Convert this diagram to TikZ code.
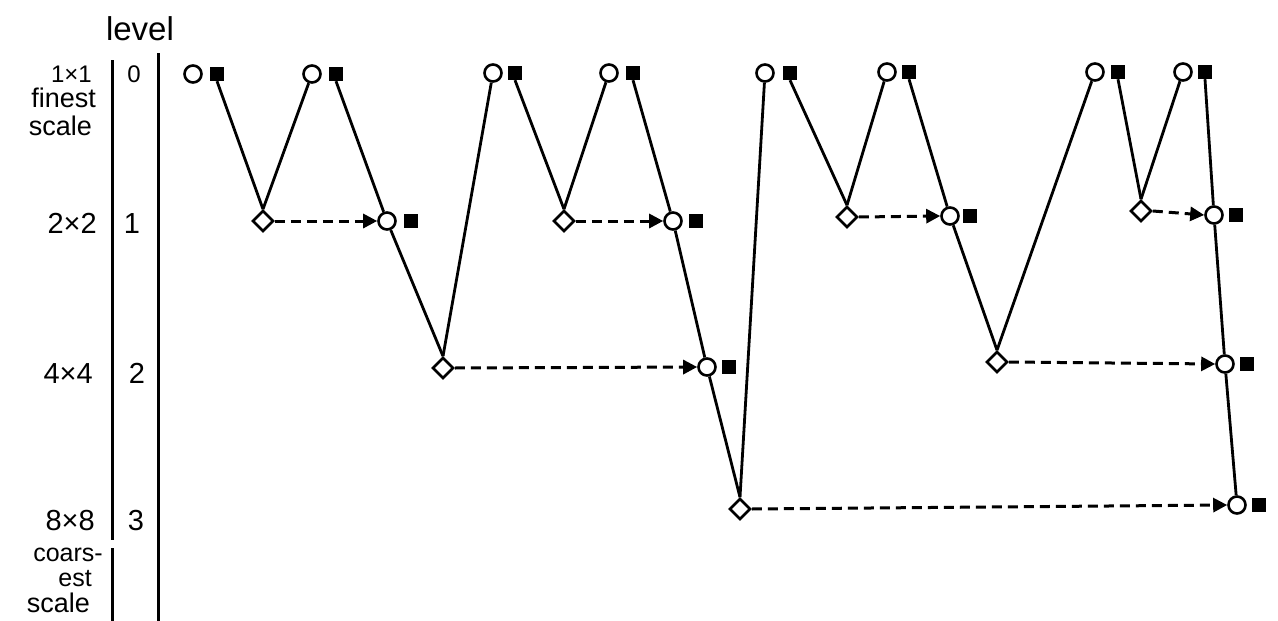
\documentclass[tikz,border=0pt]{standalone}
\usepackage{fontspec}
\setmainfont{Liberation Sans}
\usetikzlibrary{shapes.geometric,arrows.meta}
\tikzset{
  circ/.style={circle,draw,line width=2.6pt,minimum size=17pt,inner sep=0pt},
  sq/.style={rectangle,fill=black,minimum size=14pt,inner sep=0pt},
  dia/.style={diamond,draw,line width=2.6pt,minimum size=21pt,inner sep=0pt},
  edge/.style={line width=2.8pt},
  dasharrow/.style={line width=3pt,dash pattern=on 10pt off 6pt,-{Triangle[length=14pt,width=14pt]}},
  axis/.style={line width=3pt},
  word/.style={font=\fontsize{27}{29}\selectfont,inner sep=0pt,anchor=base east},
  lvl/.style={font=\fontsize{29}{30}\selectfont,inner sep=0pt,anchor=base},
}
\begin{document}
\begin{tikzpicture}[x=1pt,y=-1pt]
\useasboundingbox (0,0) rectangle (1278,621);
% axis
\draw[axis] (112,60) -- (112,540);
\draw[axis] (112,548) -- (112,621);
\draw[axis] (158,53) -- (158,621);
\node[font=\fontsize{33}{35}\selectfont,inner sep=0pt,anchor=base] (tlevel) at (140,40) {level};
\node[word,font=\fontsize{24}{26}\selectfont] (t11) at (92,82) {1×1};
\node[word] (tfin) at (96,107) {finest};
\node[word] (tsc1) at (92,135) {scale};
\node[word,font=\fontsize{29}{30}\selectfont] (t22) at (97,233) {2×2};
\node[word,font=\fontsize{29}{30}\selectfont] (t44) at (93,383) {4×4};
\node[word,font=\fontsize{29}{30}\selectfont] (t88) at (95,530) {8×8};
\node[word,font=\fontsize{25}{27}\selectfont] (tcoa) at (103,561) {coars-};
\node[word,font=\fontsize{25}{27}\selectfont] (test) at (92,586) {est};
\node[word] (tsc2) at (90,612) {scale};
\node[lvl,font=\fontsize{24}{26}\selectfont] (l0) at (134,82) {0};
\node[lvl] (l1) at (132,233) {1};
\node[lvl] (l2) at (137,383) {2};
\node[lvl] (l3) at (136,530) {3};
% level 0
\node[circ] (c01) at (193,74) {}; \node[sq] (s01) at (217,74) {};
\node[circ] (c02) at (312,74) {}; \node[sq] (s02) at (336,74) {};
\node[circ] (c03) at (493,73) {}; \node[sq] (s03) at (515,73) {};
\node[circ] (c04) at (609,73) {}; \node[sq] (s04) at (633,73) {};
\node[circ] (c05) at (765,73) {}; \node[sq] (s05) at (790,73) {};
\node[circ] (c06) at (887,72) {}; \node[sq] (s06) at (909,72) {};
\node[circ] (c07) at (1095,72) {}; \node[sq] (s07) at (1118,72) {};
\node[circ] (c08) at (1183,72) {}; \node[sq] (s08) at (1205,72) {};
% level 1
\node[dia] (d1a) at (263,221) {};
\node[dia] (d1b) at (564,221) {};
\node[dia] (d1c) at (847,217) {};
\node[dia] (d1d) at (1141,211) {};
\node[circ] (c1a) at (387,221) {}; \node[sq] (s1a) at (411,221) {};
\node[circ] (c1b) at (673,221) {}; \node[sq] (s1b) at (696,221) {};
\node[circ] (c1c) at (950,216) {}; \node[sq] (s1c) at (970,216) {};
\node[circ] (c1d) at (1214,215) {}; \node[sq] (s1d) at (1236,215) {};
% level 2
\node[dia] (d2a) at (443,368) {};
\node[dia] (d2b) at (997,362) {};
\node[circ] (c2a) at (707,367) {}; \node[sq] (s2a) at (729,367) {};
\node[circ] (c2b) at (1225,364) {}; \node[sq] (s2b) at (1247,364) {};
% level 3
\node[dia] (d3) at (740,509) {};
\node[circ] (c3) at (1237,505) {}; \node[sq] (s3) at (1259,505) {};
% solid edges
\draw[edge] (s01.south) -- (d1a.north);
\draw[edge] (c02) -- (d1a.north);
\draw[edge] (s02.south) -- (c1a);
\draw[edge] (c1a) -- (d2a.north);
\draw[edge] (d2a.north) -- (c03);
\draw[edge] (s03.south) -- (d1b.north);
\draw[edge] (c04) -- (d1b.north);
\draw[edge] (s04.south) -- (c1b);
\draw[edge] (c1b) -- (c2a);
\draw[edge] (c2a) -- (d3.north);
\draw[edge] (d3.north) -- (c05);
\draw[edge] (s05.south) -- (d1c.north);
\draw[edge] (c06) -- (d1c.north);
\draw[edge] (s06.south) -- (c1c);
\draw[edge] (c1c) -- (d2b.north);
\draw[edge] (d2b.north) -- (c07);
\draw[edge] (s07.south) -- (d1d.north);
\draw[edge] (c08) -- (d1d.north);
\draw[edge] (s08.south) -- (c1d);
\draw[edge] (c1d) -- (c2b);
\draw[edge] (c2b) -- (c3);
% dashed arrows
\draw[dasharrow] (d1a.east) -- (c1a.west);
\draw[dasharrow] (d1b.east) -- (c1b.west);
\draw[dasharrow] (d1c.east) -- (c1c.west);
\draw[dasharrow] (d1d.east) -- (c1d.west);
\draw[dasharrow] (d2a.east) -- (c2a.west);
\draw[dasharrow] (d2b.east) -- (c2b.west);
\draw[dasharrow] (d3.east) -- (c3.west);
\end{tikzpicture}
\end{document}
